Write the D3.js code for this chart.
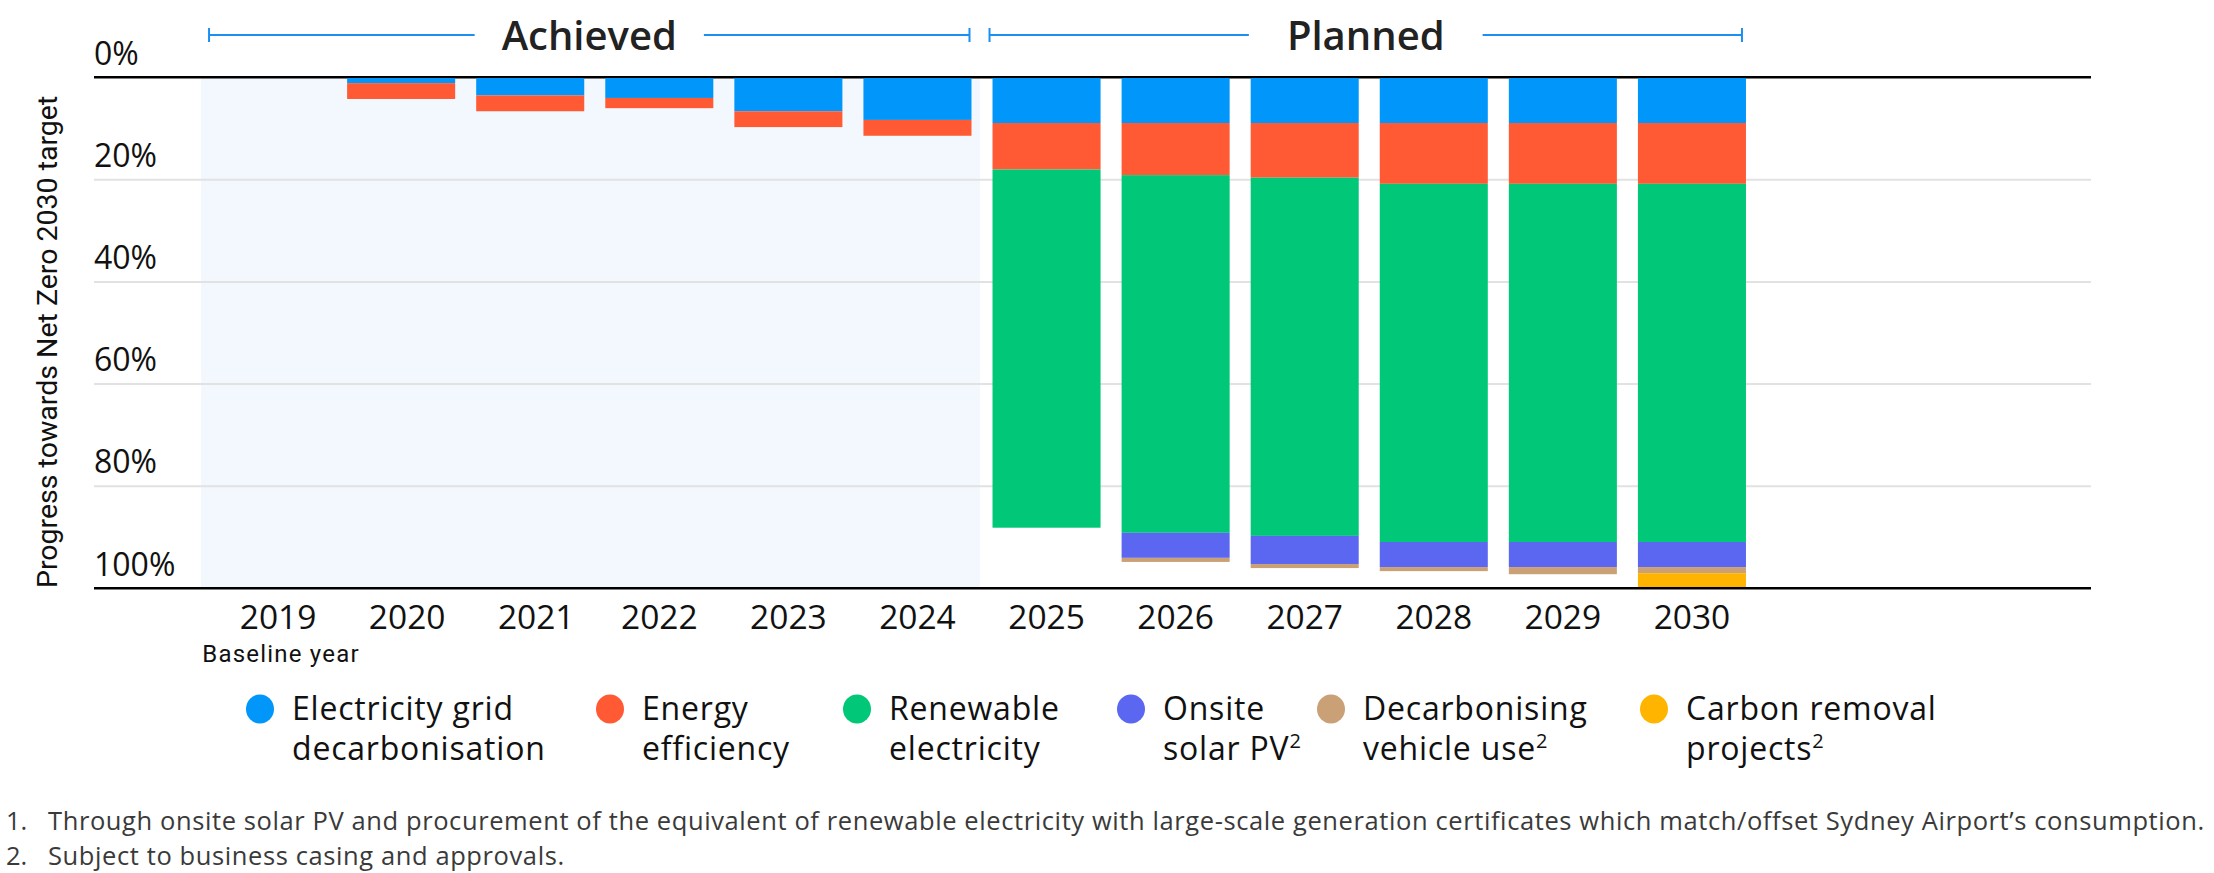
<!DOCTYPE html>
<html>
<head>
<meta charset="utf-8">
<script src="https://cdn.jsdelivr.net/npm/d3@7"></script>
<style>
  body { margin: 0; background: #fff; }
  text { font-family: "Open Sans", Roboto, sans-serif; }
</style>
</head>
<body>
<script>
// data (percent of the 2030 target, per segment)
const years = ['2019', '2020', '2021', '2022', '2023', '2024', '2025', '2026', '2027', '2028', '2029', '2030'];
const gridDecarb = [0, 1.2, 3.6, 4.1, 6.7, 8.4, 9.0, 9.0, 9.0, 9.0, 9.0, 9.0];
const efficiency = [0, 3.1, 3.1, 2.0, 3.1, 3.1, 9.1, 10.2, 10.7, 11.9, 11.9, 11.9];
const renewable = [0, 0, 0, 0, 0, 0, 70.1, 70.0, 70.1, 70.1, 70.1, 70.1];
const solarPV = [0, 0, 0, 0, 0, 0, 0, 4.9, 5.5, 4.9, 4.9, 4.9];
const vehicles = [0, 0, 0, 0, 0, 0, 0, 0.8, 0.8, 0.8, 1.4, 1.2];
const removal = [0, 0, 0, 0, 0, 0, 0, 0, 0, 0, 0, 2.9];
const seriesKeys = ['grid', 'efficiency', 'renewable', 'solar', 'vehicles', 'removal'];
const seriesColors = ['#0096fa', '#ff5a33', '#00c878', '#5b67f0', '#caa077', '#ffb400'];
const legendLines = [
  ['Electricity grid', 'decarbonisation', false],
  ['Energy', 'efficiency', false],
  ['Renewable', 'electricity', false],
  ['Onsite', 'solar PV', true],
  ['Decarbonising', 'vehicle use', true],
  ['Carbon removal', 'projects', true]
];
const yTicks = [0, 20, 40, 60, 80, 100];
const phaseLabels = ['Achieved', 'Planned'];
const phaseStart = ['2019', '2025'];
const phaseEnd = ['2024', '2030'];
const footnotes = [
  'Through onsite solar PV and procurement of the equivalent of renewable electricity with large-scale generation certificates which match/offset Sydney Airport\u2019s consumption.',
  'Subject to business casing and approvals.'
];

const W = 2214, H = 873;
const plotLeft = 94, plotRight = 2091, plotTop = 77, plotBottom = 588;

const table = years.map((yr, i) => ({
  year: yr, grid: gridDecarb[i], efficiency: efficiency[i], renewable: renewable[i],
  solar: solarPV[i], vehicles: vehicles[i], removal: removal[i]
}));

const svg = d3.select('body').append('svg')
  .attr('width', W).attr('height', H);

const x = d3.scaleBand().domain(years).range([197, 1767]).paddingInner(0.163).paddingOuter(0.163);
const y = d3.scaleLinear().domain([0, 100]).range([plotTop, plotBottom]);
const bw = x.bandwidth();

// achieved shading
const shadeX1 = x('2019') - 17;
const shadeX2 = x('2024') + bw + (x('2025') - x('2024') - bw) / 2 - 2;
svg.append('rect')
  .attr('x', shadeX1).attr('y', y(0))
  .attr('width', shadeX2 - shadeX1)
  .attr('height', y(100) - y(0))
  .style('fill', '#f2f8fe');

// y axis with gridlines
const yAxis = svg.append('g')
  .attr('transform', `translate(${plotLeft},0)`)
  .call(d3.axisLeft(y).tickValues(yTicks).tickSize(-(plotRight - plotLeft)).tickFormat(d => d + '%'));
yAxis.select('.domain').remove();
yAxis.selectAll('.tick line')
  .style('stroke', d => (d === 0 || d === 100) ? '#000' : '#e2e2e2')
  .style('stroke-width', 2);
yAxis.selectAll('.tick text')
  .attr('x', 0).attr('dy', -13)
  .attr('text-anchor', 'start')
  .style('font-size', '32px').style('fill', '#111');

// stacked bars
const stacked = d3.stack().keys(seriesKeys)(table);
svg.append('g').selectAll('g')
  .data(stacked).join('g')
  .style('fill', (d, i) => seriesColors[i])
  .selectAll('rect')
  .data(d => d.filter(p => p[1] - p[0] > 0))
  .join('rect')
  .attr('x', d => x(d.data.year))
  .attr('y', d => y(d[0]) + (d[0] === 0 ? 1 : 0))
  .attr('width', bw)
  .attr('height', d => y(d[1]) - y(d[0]) - (d[0] === 0 ? 1 : 0));

// redraw the axis lines over the bars
svg.append('line').attr('x1', plotLeft).attr('x2', plotRight).attr('y1', y(0)).attr('y2', y(0))
  .style('stroke', '#000').style('stroke-width', 2);
svg.append('line').attr('x1', plotLeft).attr('x2', plotRight).attr('y1', y(100)).attr('y2', y(100))
  .style('stroke', '#000').style('stroke-width', 2);

// x axis labels
const xAxis = svg.append('g')
  .attr('transform', `translate(0,${y(100)})`)
  .call(d3.axisBottom(x).tickSize(0));
xAxis.select('.domain').remove();
xAxis.selectAll('.tick text')
  .attr('y', 41).attr('dy', 0)
  .attr('dx', d => +d <= 2021 ? 6 : 0)
  .style('font-size', '33.5px').style('fill', '#111');

svg.append('text')
  .attr('x', x('2019') + bw / 2 + 9).attr('y', 662)
  .attr('text-anchor', 'middle')
  .style('font-family', 'Roboto, sans-serif')
  .style('font-size', '24px').style('letter-spacing', '1.2px').style('fill', '#111')
  .text('Baseline year');

// y title
svg.append('text')
  .attr('transform', `translate(57,${plotBottom}) rotate(-90)`)
  .attr('text-anchor', 'start')
  .style('font-family', 'Roboto, sans-serif')
  .style('font-size', '28.5px').style('fill', '#111')
  .text('Progress towards Net Zero 2030 target');

// phase brackets
phaseLabels.forEach((lab, i) => {
  const x1 = i === 0 ? x(phaseStart[i]) - 9 : x(phaseStart[i]) - 3;
  const x2 = i === 0 ? x(phaseEnd[i]) + bw - 2 : x(phaseEnd[i]) + bw - 4;
  const cx = (x1 + x2) / 2;
  const g = svg.append('g');
  const t = g.append('text')
    .attr('x', cx).attr('y', 50)
    .attr('text-anchor', 'middle')
    .style('font-size', '40px').style('font-weight', 600).style('fill', '#222')
    .text(lab);
  const half = t.node().getComputedTextLength() / 2 + (i === 0 ? 27 : 38);
  g.append('line').attr('x1', x1).attr('x2', cx - half).attr('y1', 35).attr('y2', 35);
  g.append('line').attr('x1', cx + half).attr('x2', x2).attr('y1', 35).attr('y2', 35);
  g.append('line').attr('x1', x1).attr('x2', x1).attr('y1', 28).attr('y2', 42);
  g.append('line').attr('x1', x2).attr('x2', x2).attr('y1', 28).attr('y2', 42);
  g.selectAll('line').style('stroke', '#1d8ff0').style('stroke-width', 2);
});

// legend (two lines per entry, kept in one text element)
const legendX = [260, 610, 857, 1131, 1331, 1654];
const legend = svg.append('g').selectAll('g')
  .data(legendLines).join('g')
  .attr('transform', (d, i) => `translate(${legendX[i]},0)`)
  .style('font-family', 'Roboto, sans-serif');
legend.append('ellipse')
  .attr('cx', 0).attr('cy', 709).attr('rx', 14).attr('ry', 14.5)
  .style('fill', (d, i) => seriesColors[i]);
const label = legend.append('text')
  .attr('x', 32).attr('y', 720)
  .style('font-size', '32px').style('letter-spacing', '0.8px').style('fill', '#111');
label.append('tspan').attr('x', 32).text(d => d[0]);
label.append('tspan').attr('x', 32).attr('dy', 40).text(d => d[1]);
label.filter(d => d[2]).append('tspan')
  .attr('dy', -12).style('font-size', '20px').text('2');

// footnotes
footnotes.forEach((f, i) => {
  svg.append('text').attr('x', 6).attr('y', 830 + i * 35)
    .style('font-size', '25.5px').style('fill', '#3a3a3a').text((i + 1) + '.');
  svg.append('text').attr('x', 48).attr('y', 830 + i * 35)
    .style('font-size', '25.5px').style('letter-spacing', '0.6px')
    .style('fill', '#3a3a3a').text(f);
});
</script>
</body>
</html>
